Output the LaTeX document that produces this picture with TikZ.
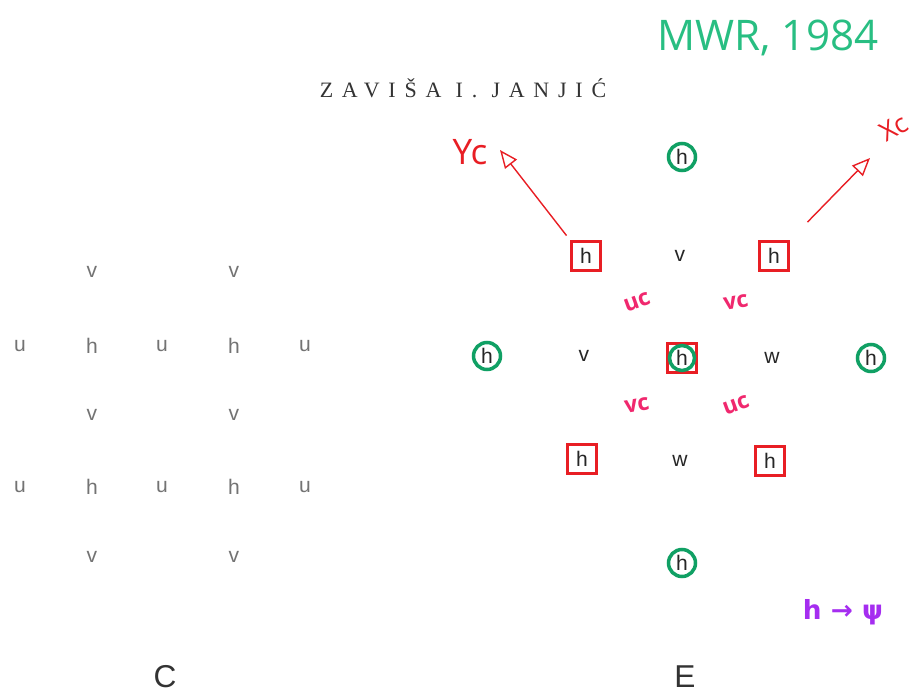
\documentclass[tikz,border=0pt]{standalone}
\usepackage{fontspec}
\setmainfont{Liberation Serif}
\setsansfont{Liberation Sans}
\newfontfamily\handfont{Open Sans}
\newfontfamily\symfont{DejaVu Sans}
\usetikzlibrary{arrows.meta}
\definecolor{penred}{RGB}{232,30,36}
\definecolor{pengreen}{RGB}{16,160,100}
\definecolor{penpink}{RGB}{240,40,110}
\definecolor{penpurple}{RGB}{165,45,240}
\definecolor{mintgreen}{RGB}{40,190,130}
\tikzset{
    grid_pt/.style={
        font=\sffamily\fontsize{12}{12}\selectfont,
        text=black!85,
        inner sep=1pt
    },
    c_pt/.style={grid_pt, text=black!55},
    red_box/.style={
        grid_pt,
        draw=penred,
        line width=2pt,
        minimum size=0.58cm,
        inner sep=0pt
    },
    green_ring/.style={
        grid_pt,
        circle,
        draw=pengreen,
        line width=2pt,
        minimum size=0.54cm,
        inner sep=0pt
    },
    pen_arrow/.style={
        draw=penred,
        thick,
        -{Triangle[open, length=3.6mm, width=3mm]}
    },
    pen_note/.style={font=\handfont\fontsize{13}{13}\selectfont\bfseries, text=penpink, inner sep=0pt}
}

\begin{document}
\begin{tikzpicture}[x=0.02cm, y=-0.02cm]
    \useasboundingbox (0,0) rectangle (913,697);

    \node[font=\addfontfeatures{LetterSpace=40}\fontsize{12.5}{13}\selectfont, text=black!80] (title) at (463,88) {ZAVIŠA I. JANJIĆ};

    % Lattice C
    \node[c_pt] (c11) at (92,272) {v};  \node[c_pt] (c12) at (234,272) {v};
    \node[c_pt] (c21) at (20,346) {u};  \node[c_pt] (c22) at (92,346) {h};
    \node[c_pt] (c23) at (162,346) {u}; \node[c_pt] (c24) at (234,346) {h};
    \node[c_pt] (c25) at (305,346) {u};
    \node[c_pt] (c31) at (92,415) {v};  \node[c_pt] (c32) at (234,415) {v};
    \node[c_pt] (c41) at (20,487) {u};  \node[c_pt] (c42) at (92,487) {h};
    \node[c_pt] (c43) at (162,487) {u}; \node[c_pt] (c44) at (234,487) {h};
    \node[c_pt] (c45) at (305,487) {u};
    \node[c_pt] (c51) at (92,557) {v};  \node[c_pt] (c52) at (234,557) {v};
    \node[font=\sffamily\fontsize{18}{18}\selectfont, text=black!80] (lab_c) at (165,677) {C};

    % Lattice E
    \node[green_ring] (e_n) at (682,157) {h};
    \node[red_box] (e_nw) at (586,256) {h};
    \node[grid_pt] (e_v1) at (680,256) {v};
    \node[red_box] (e_ne) at (774,256) {h};
    \node[green_ring] (e_w) at (487,356) {h};
    \node[grid_pt] (e_v2) at (584,356) {v};
    \node[red_box] (e_c) at (682,358) {h};
    \draw[pengreen, line width=2pt] (e_c.center) circle (0.25cm);
    \node[grid_pt] (e_w1) at (772,358) {w};
    \node[green_ring] (e_e) at (871,358) {h};
    \node[red_box] (e_sw) at (582,459) {h};
    \node[grid_pt] (e_w2) at (680,461) {w};
    \node[red_box] (e_se) at (770,461) {h};
    \node[green_ring] (e_s) at (682,563) {h};
    \node[font=\sffamily\fontsize{18}{18}\selectfont, text=black!80] (lab_e) at (685,677) {E};

    % Rotated axes
    \coordinate (yc_tip) at (500,150);
    \coordinate (xc_tip) at (870,158);
    \draw[pen_arrow, shorten <=3pt] (e_nw.north west) -- (yc_tip);
    \draw[pen_arrow, shorten <=14pt] (e_ne.north east) -- (xc_tip);
    \node[font=\handfont\fontsize{20}{20}\selectfont, text=penred] (yc_lab) at (470,152) {Yc};
    \node[font=\handfont\fontsize{15}{15}\selectfont, text=penred, rotate=30, inner sep=0pt] (xc_lab) at (894,128) {Xc};

    % Pen notes round the centre
    \node[pen_note, rotate=20] (uc_nw) at (637,302) {uc};
    \node[pen_note, rotate=10] (vc_ne) at (736,302) {vc};
    \node[pen_note, rotate=10] (vc_sw) at (637,405) {vc};
    \node[pen_note, rotate=20] (uc_se) at (736,405) {uc};

    \node[font=\handfont\fontsize{24}{24}\selectfont, text=mintgreen] (ref) at (768,38) {MWR, 1984};
    \node[font=\symfont\bfseries\fontsize{15}{15}\selectfont, text=penpurple] (h_psi) at (843,612) {h → ψ};
\end{tikzpicture}
\end{document}
